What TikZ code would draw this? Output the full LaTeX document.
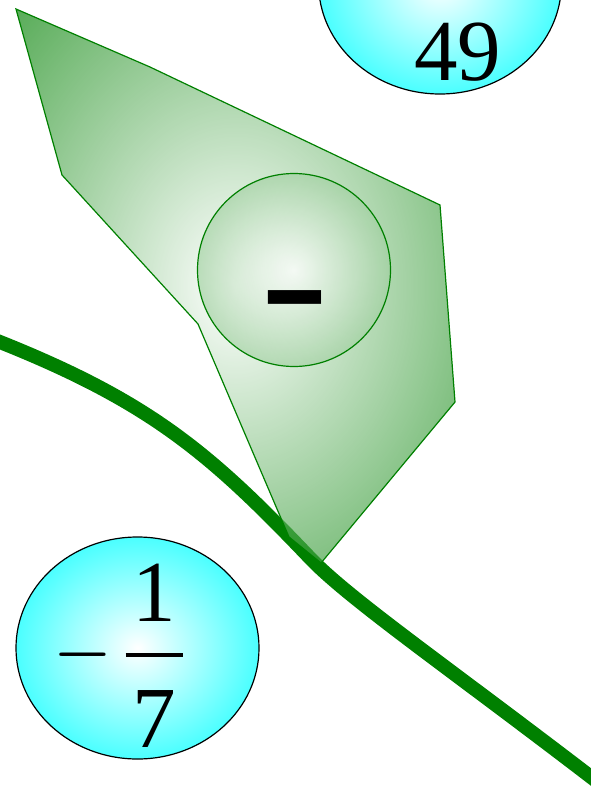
\RequirePackage{fix-cm}
\documentclass[tikz,border=0pt]{standalone}
\usepackage{graphicx}
\usepackage{fontspec}
\setmainfont{Liberation Serif}
\newfontfamily\djv{DejaVu Sans}
\usetikzlibrary{shapes.geometric}
\definecolor{svggreen}{RGB}{0,128,0}
\definecolor{aqua}{RGB}{0,255,255}
\pgfdeclareradialshading{polyshade}{\pgfpoint{0bp}{0bp}}{color(0bp)=(white); color(35.36bp)=(svggreen); color(50bp)=(svggreen)}
\pgfdeclareradialshading{ballshade}{\pgfpoint{0bp}{0bp}}{color(0bp)=(white); color(67.5bp)=(svggreen)}
\pgfdeclareradialshading{aquashade}{\pgfpoint{0bp}{0bp}}{color(0bp)=(white); color(35.36bp)=(aqua); color(50bp)=(aqua)}
\tikzset{
  bigtext/.style={anchor=base west, inner sep=0pt, font=\fontsize{87}{87}\selectfont},
  aquaball/.style={ellipse, draw=black, line width=1.2pt, shade, shading=aquashade,
    minimum width=243pt, minimum height=222pt, inner sep=0pt},
  greenball/.style={circle, draw=svggreen, line width=1.2pt, shade, shading=ballshade,
    fill opacity=0.65, minimum size=193pt, inner sep=0pt},
  stem/.style={draw=svggreen, line width=14pt},
  leaf/.style={draw=svggreen, line width=1.2pt, shade, shading=polyshade, fill opacity=0.65, line join=miter}
}
\begin{document}
\begin{tikzpicture}[x=1pt,y=-1pt]
\useasboundingbox (0,0) rectangle (591,787);
% thick curve
\coordinate (s0) at (-20,334);
\coordinate (s1) at (0,342);
\coordinate (s2) at (310,558);
\coordinate (s3) at (604,787);
\path[stem] (s0) -- (s1) .. controls (150,402) and (210,453) .. (s2)
  .. controls (350,600) and (454,671.5) .. (s3);
% shaded polygon
\path[leaf] (16,9) -- (150,67) -- (440,205) -- (455,402) -- (321,563) -- (289,537) -- (198,324) -- (62,175) -- cycle;
% inner circle with minus
\node[greenball] (ball) at (294,270) {};
\node[anchor=base west, inner sep=0pt] (minus) at (258.1,344.9) {\djv\fontsize{202}{202}\selectfont\scalebox{1}[0.85]{-}};
% cyan ellipses
\node[aquaball] (e49) at (440,-17) {};
\node[bigtext] (t49) at (414,80.5) {49};
\node[aquaball] (e17) at (137.5,648) {};
\node[bigtext] (t17) at (53.7,676.9) {$\displaystyle\scalebox{0.87}[1]{$-$}\kern11.7pt{{\hbox{\kern6.75pt\raisebox{-3pt}{1}\kern6.75pt}}\above3.5pt{\hbox{\kern6.75pt\raisebox{-10.5pt}{7}\kern6.75pt}}}$};
\end{tikzpicture}
\end{document}
